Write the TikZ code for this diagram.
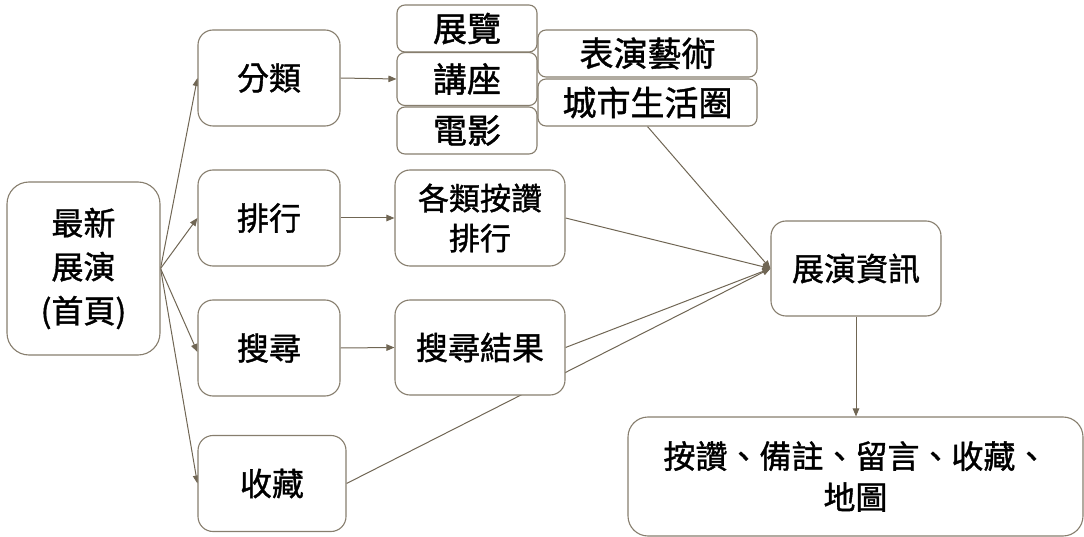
\documentclass[tikz,border=0pt]{standalone}
\usepackage{fontspec}
\newfontfamily\cjk[FakeBold=1.2]{Noto Sans CJK TC}
\usetikzlibrary{arrows.meta,backgrounds}
\definecolor{linec}{RGB}{112,102,84}
\definecolor{boxc}{RGB}{135,126,110}
\begin{document}
\begin{tikzpicture}[x=1pt,y=-1pt,
  box/.style={draw=boxc,line width=1.1pt,fill=white,rectangle,rounded corners=15pt,inner sep=0pt,align=center,text=black,font=\cjk\fontsize{32}{42}\selectfont},
  small/.style={box,rounded corners=8pt,font=\cjk\fontsize{34}{40}\selectfont},
  conn/.style={draw=linec,line width=1pt,-{Triangle[length=8pt,width=6.5pt]}},
  plain/.style={draw=linec,line width=1pt}]
\useasboundingbox (0,0) rectangle (1084,537);
\node[box,rounded corners=22pt,minimum width=153pt,minimum height=173pt,font=\cjk\fontsize{32}{44}\selectfont] (top) at (83.5,268.5) {最新\\展演\\(首頁)};
\node[box,minimum width=142pt,minimum height=96pt] (fenlei) at (269,78) {分類};
\node[box,minimum width=142pt,minimum height=96pt] (paihang) at (269,218) {排行};
\node[box,minimum width=142pt,minimum height=96pt] (sousuo) at (269,348) {搜尋};
\node[box,minimum width=148pt,minimum height=96pt] (shoucang) at (272,483.5) {收藏};
\node[small,minimum width=140pt,minimum height=47pt] (zhanlan) at (467,28.5) {展覽};
\node[small,minimum width=140pt,minimum height=53pt] (jiangzuo) at (467,79) {講座};
\node[small,minimum width=140pt,minimum height=47pt] (dianying) at (467,130.5) {電影};
\node[small,minimum width=219pt,minimum height=47pt] (biaoyan) at (647.5,53.5) {表演藝術};
\node[small,minimum width=219pt,minimum height=47pt] (chengshi) at (647.5,102.5) {城市生活圈};
\node[box,minimum width=170pt,minimum height=96pt,font=\cjk\fontsize{31}{40}\selectfont] (gelei) at (480,218) {各類按讚\\排行};
\node[box,minimum width=170pt,minimum height=95pt] (jieguo) at (480,347.5) {搜尋結果};
\node[box,minimum width=170pt,minimum height=95pt] (info) at (856,268.5) {展演資訊};
\node[box,rounded corners=20pt,minimum width=455pt,minimum height=119pt,font=\cjk\fontsize{32}{41}\selectfont] (bottom) at (855.5,476.5) {按讚、備註、留言、收藏、\\地圖};
\begin{pgfonlayer}{background}
\draw[conn] (top.east) -- (fenlei.west);
\draw[conn] (top.east) -- (paihang.west);
\draw[conn] (top.east) -- ([yshift=-4pt]sousuo.west);
\draw[conn] (top.east) -- (shoucang.west);
\draw[conn] (fenlei.east) -- (jiangzuo.west);
\draw[conn] (paihang.east) -- (gelei.west);
\draw[conn] (sousuo.east) -- (jieguo.west);
\draw[conn] (gelei.east) -- (info.west);
\draw[conn] (jieguo.east) -- (info.west);
\draw[conn] (shoucang.east) -- (info.west);
\draw[conn] (chengshi.south) -- (info.west);
\draw[conn] (info.south) -- (info.south |- bottom.north);
\end{pgfonlayer}
\end{tikzpicture}
\end{document}
